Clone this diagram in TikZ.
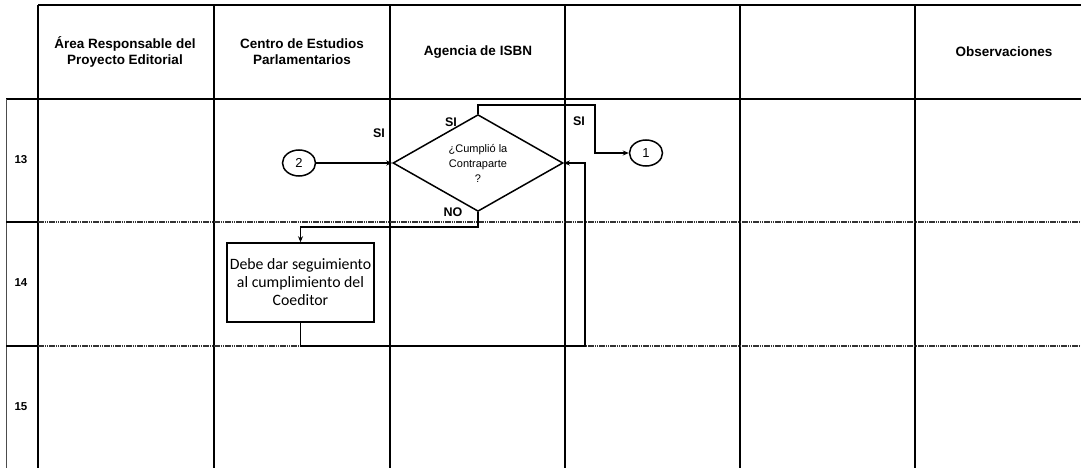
\documentclass[tikz,border=0pt]{standalone}
\usepackage{fontspec}
\setmainfont{Liberation Sans}
\newfontfamily\carlito{Carlito}
\usetikzlibrary{shapes.geometric,arrows.meta}

\begin{document}
\begin{tikzpicture}[x=1pt,y=-1pt,
    lane/.style={line width=1.6pt},
    fila/.style={line width=1.2pt,black!80,dash pattern=on 1.5pt off 0.7pt},
    cabecera/.style={font=\bfseries\fontsize{13.5}{16}\selectfont,align=center},
    numfila/.style={font=\bfseries\fontsize{11.5}{13}\selectfont},
    etiqueta/.style={font=\bfseries\fontsize{12.5}{14}\selectfont},
    decision/.style={diamond,draw,line width=1.5pt,minimum width=170pt,
        minimum height=92pt,inner sep=0pt,align=center,
        font=\fontsize{11}{15}\selectfont},
    proceso/.style={rectangle,draw,line width=1.5pt,minimum width=147pt,
        minimum height=79pt,inner sep=2pt,align=center,
        font=\carlito\fontsize{15.8}{18}\selectfont},
    conector/.style={ellipse,draw,line width=1.5pt,minimum width=33pt,
        minimum height=26pt,inner sep=0pt,font=\fontsize{13}{14}\selectfont},
    flujo/.style={line width=1.5pt,-{Stealth[length=6pt,width=5pt]}}
  ]
  \useasboundingbox (0,0) rectangle (1081,468);

  % cuadricula de carriles
  \draw[lane] (38,5) -- (1081,5);
  \draw[lane] (6,99) -- (1081,99);
  \draw[line width=0.8pt,black!70] (6,99) -- (6,468);
  \foreach \x in {38,214,390,565,740,915}
    \draw[lane] (\x,5) -- (\x,468);
  \foreach \y in {222,346} {
    \draw[lane] (6,\y) -- (38,\y);
    \draw[fila] (38,\y) -- (1081,\y);
  }

  % encabezados
  \node[cabecera] (area) at (125,52) {Área Responsable del\\Proyecto Editorial};
  \node[cabecera] (cedip) at (302,52) {Centro de Estudios\\Parlamentarios};
  \node[cabecera] (isbn) at (478,52) {Agencia de ISBN};
  \node[cabecera] (obs) at (1004,52) {Observaciones};

  \node[numfila] (n13) at (21,160) {13};
  \node[numfila] (n14) at (21,283) {14};
  \node[numfila] (n15) at (21,407) {15};

  % nodos del flujo
  \node[decision] (cumple) at (478,163) {¿Cumplió la\\Contraparte\\?};
  \node[conector] (c2) at (299,163) {2};
  \node[conector] (c1) at (646,153) {1};
  \node[proceso] (seguir) at (300.5,282.5)
      {Debe dar seguimiento\\al cumplimiento del\\Coeditor};

  \coordinate (siCodo) at (595,105);
  \coordinate (noCodo) at (478,227);
  \coordinate (vuelta) at (585,346);

  \draw[flujo] (c2.east) -- (cumple.west);
  \draw[flujo] (cumple.north) |- (siCodo) |- (c1.west);
  \draw[flujo] (cumple.south) -- (noCodo) -| (seguir.north);
  \draw[flujo] (seguir.south) |- (vuelta) |- (cumple.east);

  \node[etiqueta] (si1) at (379,133) {SI};
  \node[etiqueta] (si2) at (451,122) {SI};
  \node[etiqueta] (si3) at (579,121) {SI};
  \node[etiqueta] (no) at (453,212) {NO};
\end{tikzpicture}
\end{document}
